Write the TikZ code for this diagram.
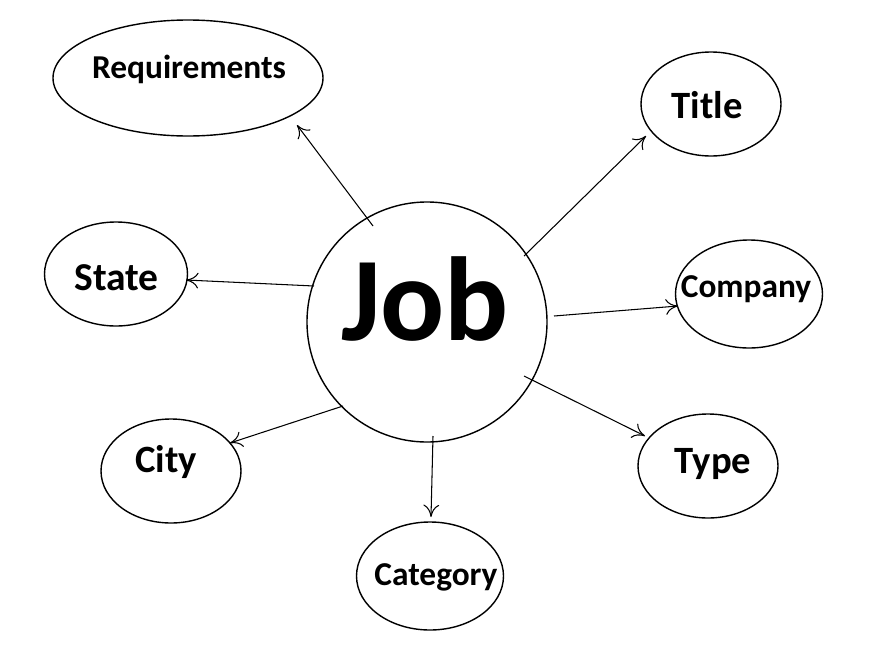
\documentclass[tikz,border=0pt]{standalone}
\usepackage{fontspec}
\setmainfont{Carlito}
\usetikzlibrary{shapes.geometric,arrows.meta}
\begin{document}
\begin{tikzpicture}[x=0.02cm,y=-0.02cm,
  attr/.style={draw,thick,ellipse,inner sep=0pt},
  lbl/.style={anchor=base,inner sep=0pt},
  arr/.style={-{To[length=7pt,width=9pt]},semithick}]
\useasboundingbox (0,0) rectangle (872,656);
\node[draw,thick,circle,minimum size=240*0.02cm,inner sep=0pt] (job) at (427,322) {};
\node[attr,minimum width=270*0.02cm,minimum height=116*0.02cm] (req) at (188,78) {};
\node[attr,minimum width=140*0.02cm,minimum height=104*0.02cm] (title) at (711,104) {};
\node[attr,minimum width=143*0.02cm,minimum height=104*0.02cm] (state) at (116,274) {};
\node[attr,minimum width=147*0.02cm,minimum height=108*0.02cm] (company) at (749,294) {};
\node[attr,minimum width=140*0.02cm,minimum height=104*0.02cm] (city) at (171,471) {};
\node[attr,minimum width=140*0.02cm,minimum height=104*0.02cm] (type) at (708,466) {};
\node[attr,minimum width=147*0.02cm,minimum height=108*0.02cm] (category) at (430,576) {};
% labels
\node[lbl,font=\fontsize{68}{68}\selectfont\bfseries] (jobt) at (425,340) {Job};
\node[lbl,font=\fontsize{19}{19}\selectfont\bfseries] (reqt) at (189,78) {Requirements};
\node[lbl,font=\fontsize{22}{22}\selectfont\bfseries] (titlet) at (707,118) {Title};
\node[lbl,font=\fontsize{22.5}{22.5}\selectfont\bfseries] (statet) at (116.5,290) {State};
\node[lbl,font=\fontsize{19}{19}\selectfont\bfseries] (companyt) at (746,297) {Company};
\node[lbl,font=\fontsize{22}{22}\selectfont\bfseries] (cityt) at (166,472) {City};
\node[lbl,font=\fontsize{22}{22}\selectfont\bfseries] (typet) at (713,473) {Type};
\node[lbl,font=\fontsize{19}{19}\selectfont\bfseries] (categoryt) at (436,585) {Category};
% arrow end points
\coordinate (s1) at (373,226); \coordinate (e1) at (297,125);
\coordinate (s2) at (524,256); \coordinate (e2) at (646,136);
\coordinate (s3) at (314,286); \coordinate (e3) at (186,280);
\coordinate (s4) at (554,316); \coordinate (e4) at (678,306);
\coordinate (s5) at (343,406); \coordinate (e5) at (230,443);
\coordinate (s6) at (524,376); \coordinate (e6) at (645,436);
\coordinate (s7) at (433,436); \coordinate (e7) at (431,517);
\draw[arr] (s1) -- (e1);
\draw[arr] (s2) -- (e2);
\draw[arr] (s3) -- (e3);
\draw[arr] (s4) -- (e4);
\draw[arr] (s5) -- (e5);
\draw[arr] (s6) -- (e6);
\draw[arr] (s7) -- (e7);
\end{tikzpicture}
\end{document}
